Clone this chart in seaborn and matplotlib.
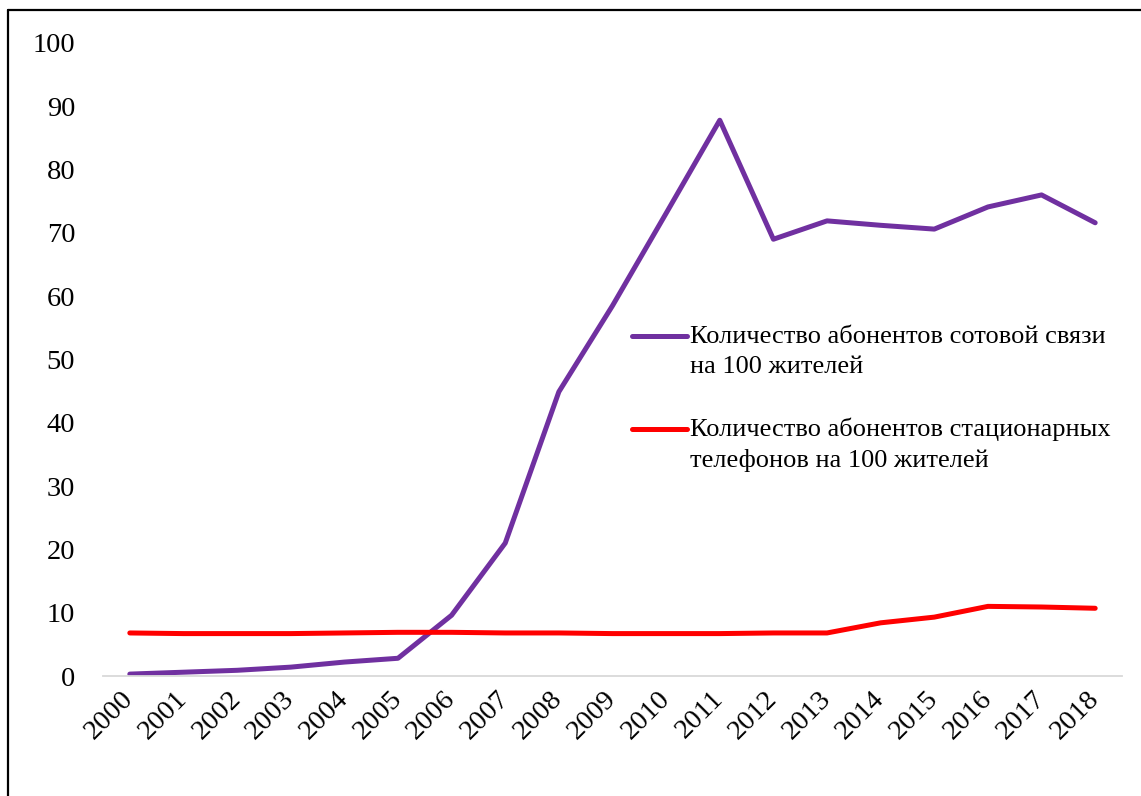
import matplotlib
matplotlib.use("Agg")
import matplotlib.pyplot as plt
from matplotlib.lines import Line2D
from matplotlib.legend_handler import HandlerLine2D
import numpy as np
import seaborn as sns
import pandas as pd

years = [str(y) for y in range(2000, 2019)]
mobile = [0.3, 0.6, 0.9, 1.4, 2.2, 2.8, 9.6, 21.0, 44.9, 58.5, 73.1, 87.8,
          69.0, 71.9, 71.2, 70.6, 74.1, 76.0, 71.6]
fixed = [6.8, 6.7, 6.7, 6.7, 6.8, 6.9, 6.9, 6.8, 6.8, 6.7, 6.7, 6.7,
         6.8, 6.8, 8.4, 9.3, 11.0, 10.9, 10.7]

label_mobile = "Количество абонентов сотовой связи\nна 100 жителей"
label_fixed = "Количество абонентов стационарных\nтелефонов на 100 жителей"

df = pd.DataFrame({
    "year": years * 2,
    "value": mobile + fixed,
    "series": [label_mobile] * len(years) + [label_fixed] * len(years),
})

sns.set_theme(style="white")
plt.rcParams["font.family"] = ["Liberation Serif", "DejaVu Serif"]
plt.rcParams["text.color"] = "black"


class FirstLineHandler(HandlerLine2D):
    """Draws the legend line level with the first line of a two-line label."""

    def __init__(self, shift, **kw):
        super().__init__(**kw)
        self.shift = shift

    def create_artists(self, legend, orig_handle, xdescent, ydescent,
                       width, height, fontsize, trans):
        artists = super().create_artists(legend, orig_handle, xdescent,
                                         ydescent, width, height, fontsize,
                                         trans)
        for a in artists:
            a.set_ydata(np.asarray(a.get_ydata()) + self.shift)
        return artists


fig = plt.figure(figsize=(11.41, 7.96), dpi=100)
W, H = 1141, 796
ax = fig.add_axes([103 / W, 1 - 676 / H, (1122 - 103) / W, (676 - 43) / H])

sns.lineplot(data=df, x="year", y="value", hue="series", sort=False,
             palette={label_mobile: "#7030A0", label_fixed: "#FF0000"},
             linewidth=3.6, solid_capstyle="round", ax=ax, legend=True)

ax.set_xlim(-0.5, len(years) - 0.5)
ax.set_ylim(0, 100)
ax.set_yticks(range(0, 101, 10))
ax.set_xlabel("")
ax.set_ylabel("")
for side in ["top", "right", "left"]:
    ax.spines[side].set_visible(False)
ax.spines["bottom"].set_color("#D9D9D9")
ax.spines["bottom"].set_linewidth(1.3)
ax.tick_params(axis="both", length=0, labelsize=20.5, colors="black")
ax.tick_params(axis="y", pad=20)
ax.tick_params(axis="x", pad=14)
for lbl in ax.get_xticklabels():
    lbl.set_rotation(45)
    lbl.set_ha("right")
    lbl.set_va("center")
    lbl.set_rotation_mode("anchor")

handles, labels = ax.get_legend_handles_labels()
leg = ax.legend(handles, labels, loc="upper left",
                bbox_to_anchor=(632 / W, 1 - 326 / H),
                bbox_transform=fig.transFigure,
                frameon=False, fontsize=19, handlelength=2.1,
                handletextpad=0.1, borderpad=0, borderaxespad=0,
                labelspacing=1.5, labelcolor="black",
                handler_map={h: FirstLineHandler(shift=10.8) for h in handles})
for t in leg.get_texts():
    t.set_linespacing(1.45)

# frame lines along the top and left edges of the figure
fig.add_artist(Line2D([8 / W, 1], [1 - 10 / H, 1 - 10 / H], color="black",
                      linewidth=1.6, transform=fig.transFigure))
fig.add_artist(Line2D([8 / W, 8 / W], [0, 1 - 10 / H], color="black",
                      linewidth=1.6, transform=fig.transFigure))

fig.savefig("out.png", dpi=100)
